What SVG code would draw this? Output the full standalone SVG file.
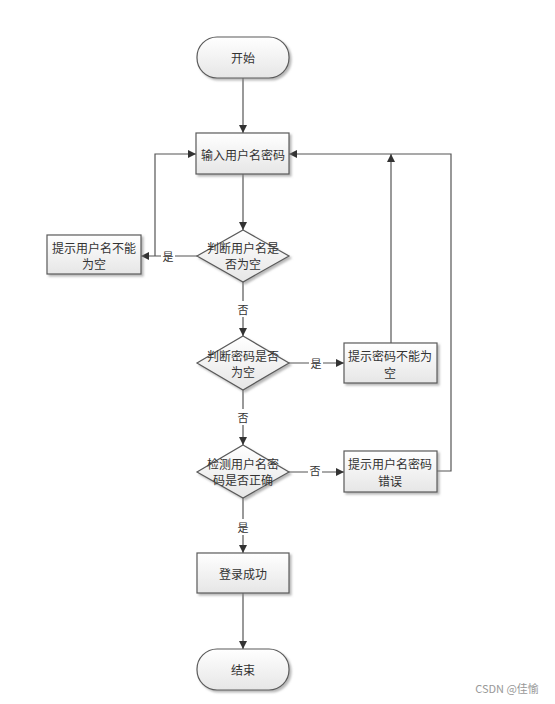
<svg xmlns="http://www.w3.org/2000/svg" width="555" height="704" viewBox="0 0 555 704">
<style>
.shape{fill:url(#g);stroke:#5a5a5a;stroke-width:1.2;filter:url(#sh)}
.t{font-family:"Noto Sans CJK SC","Noto Sans CJK JP",sans-serif;font-size:12px;fill:#333;text-anchor:middle;dominant-baseline:central}
.c{fill:none;stroke:#555;stroke-width:1.2}
.lbl{font-family:"Noto Sans CJK SC",sans-serif;font-size:11px;fill:#333;text-anchor:middle;dominant-baseline:central}
</style>
<defs>
<linearGradient id="g" x1="0" y1="0" x2="0" y2="1"><stop offset="0" stop-color="#ffffff"/><stop offset="1" stop-color="#e6e6e6"/></linearGradient>
<filter id="sh" x="-10%" y="-10%" width="130%" height="140%"><feDropShadow dx="2" dy="2" stdDeviation="1" flood-color="#888" flood-opacity="0.6"/></filter>
<marker id="a" viewBox="0 0 10 10" refX="10" refY="5" markerWidth="8" markerHeight="8" markerUnits="userSpaceOnUse" orient="auto"><path d="M0,0 L10,5 L0,10 z" fill="#333"/></marker>
</defs>
<rect width="555" height="704" fill="#fff"/>
<g id="connectors">
<line class="c" x1="243" y1="78" x2="243" y2="133" marker-end="url(#a)"/>
<line class="c" x1="243" y1="174" x2="243" y2="230" marker-end="url(#a)"/>
<polyline class="c" points="197,256 141,256" marker-end="url(#a)"/>
<polyline class="c" points="155,256 155,154 196,154" marker-end="url(#a)"/>
<line class="c" x1="243" y1="282" x2="243" y2="336" marker-end="url(#a)"/>
<line class="c" x1="289" y1="363" x2="344" y2="363" marker-end="url(#a)"/>
<line class="c" x1="391" y1="343" x2="391" y2="154" marker-end="url(#a)"/>
<line class="c" x1="243" y1="390" x2="243" y2="445" marker-end="url(#a)"/>
<line class="c" x1="289" y1="472" x2="344" y2="472" marker-end="url(#a)"/>
<polyline class="c" points="437,471 451,471 451,154 289,154" marker-end="url(#a)"/>
<line class="c" x1="243" y1="498" x2="243" y2="553" marker-end="url(#a)"/>
<line class="c" x1="243" y1="593" x2="243" y2="649" marker-end="url(#a)"/>
<rect x="161" y="248" width="14" height="16" fill="#fff"/><text class="lbl" x="168" y="256">是</text>
<rect x="236" y="301" width="14" height="16" fill="#fff"/><text class="lbl" x="243" y="309">否</text>
<rect x="309" y="355" width="14" height="16" fill="#fff"/><text class="lbl" x="316" y="363">是</text>
<rect x="236" y="409" width="14" height="16" fill="#fff"/><text class="lbl" x="243" y="417">否</text>
<rect x="308" y="462" width="14" height="16" fill="#fff"/><text class="lbl" x="315" y="470">否</text>
<rect x="236" y="519" width="14" height="16" fill="#fff"/><text class="lbl" x="243" y="527">是</text>
</g>
<g id="start"><rect class="shape" x="197" y="37" width="92" height="41" rx="20" ry="20"/><text class="t" x="243" y="57">开始</text></g>
<g id="input"><rect class="shape" x="196" y="133" width="93" height="41"/><text class="t" x="243" y="154">输入用户名密码</text></g>
<g id="check-user"><polygon class="shape" points="243,230 289,256 243,282 197,256"/><text class="t" x="243" y="247">判断用户名是</text><text class="t" x="243" y="263">否为空</text></g>
<g id="msg-user-empty"><rect class="shape" x="47" y="235" width="94" height="39"/><text class="t" x="94" y="247">提示用户名不能</text><text class="t" x="94" y="263">为空</text></g>
<g id="check-pwd"><polygon class="shape" points="243,336 289,363 243,390 197,363"/><text class="t" x="243" y="355">判断密码是否</text><text class="t" x="243" y="371">为空</text></g>
<g id="msg-pwd-empty"><rect class="shape" x="344" y="343" width="93" height="40"/><text class="t" x="390" y="355">提示密码不能为</text><text class="t" x="390" y="372">空</text></g>
<g id="check-cred"><polygon class="shape" points="243,445 289,472 243,498 197,472"/><text class="t" x="243" y="463">检测用户名密</text><text class="t" x="243" y="479">码是否正确</text></g>
<g id="msg-cred-wrong"><rect class="shape" x="344" y="451" width="93" height="41"/><text class="t" x="390" y="463">提示用户名密码</text><text class="t" x="390" y="480">错误</text></g>
<g id="success"><rect class="shape" x="197" y="553" width="92" height="40"/><text class="t" x="243" y="573">登录成功</text></g>
<g id="end"><rect class="shape" x="197" y="649" width="92" height="41" rx="20" ry="20"/><text class="t" x="243" y="669">结束</text></g>
<text x="507" y="688" font-family="'Noto Sans CJK SC',sans-serif" font-size="11" fill="#999" text-anchor="middle" dominant-baseline="central">CSDN @佳愉</text>
</svg>
